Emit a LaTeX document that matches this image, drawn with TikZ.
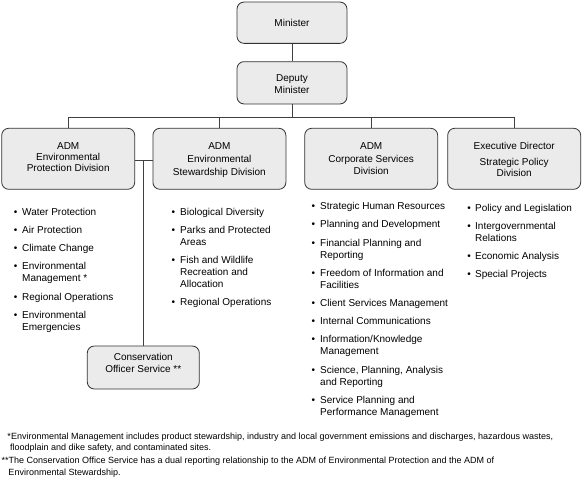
\documentclass[tikz,border=0pt]{standalone}
\usepackage{fontspec}
\setmainfont{Liberation Sans}
\begin{document}
\begin{tikzpicture}[x=1pt,y=-1pt,
  box/.style={draw=black!80, fill=black!8, rounded corners=7pt, line width=0.8pt, inner sep=0pt},
  btxt/.style={align=center, font=\fontsize{10}{12}\selectfont, inner sep=0pt},
  item/.style={anchor=base west, font=\fontsize{10}{12}\selectfont, inner sep=0pt},
  dot/.style={anchor=base, font=\fontsize{10}{12}\selectfont, inner sep=0pt},
  note/.style={anchor=base west, font=\fontsize{9}{11}\selectfont, inner sep=0pt},
  conn/.style={draw=black!75, line width=0.8pt}]
\useasboundingbox (0,0) rectangle (582,479);

% boxes
\node[box, minimum width=110pt, minimum height=41.3pt] (min) at (292,22.7) {};
\node[box, minimum width=110pt, minimum height=42.3pt] (dep) at (292,82.8) {};
\node[box, minimum width=133pt, minimum height=61pt] (d1) at (68.2,158.8) {};
\node[box, minimum width=133pt, minimum height=61pt] (d2) at (219.4,158.8) {};
\node[box, minimum width=133pt, minimum height=61pt] (d3) at (371.2,158.8) {};
\node[box, minimum width=133pt, minimum height=61pt] (d4) at (514.2,158.8) {};
\node[box, minimum width=112pt, minimum height=43pt] (cons) at (143.3,367.5) {};

% box texts
\node[btxt] (min-t) at (292,23.3) {Minister};
\node[btxt] (dep-t) at (292,84.2) {Deputy\\[-0.3pt]Minister};
\node[btxt] (d1-t) at (68.2,157) {ADM\\[-1pt]Environmental\\[-0.4pt]Protection Division};
\node[btxt] (d2-t) at (219.4,159.7) {ADM\\[1.6pt]Environmental\\[0.4pt]Stewardship Division};
\node[btxt] (d3-t) at (371.2,158.2) {ADM\\[1.3pt]Corporate Services\\[-0.3pt]Division};
\node[btxt] (d4-t) at (514.2,159.5) {Executive Director\\[4.6pt]Strategic Policy\\[-1pt]Division};
\node[btxt] (cons-t) at (143.3,363) {Conservation\\Officer Service **};

% connectors
\draw[conn] (min.south) -- (dep.north);
\coordinate (bus) at (292,117.3);
\draw[conn] (dep.south) -- (bus);
\draw[conn] (d1.north) |- (bus) -| (d4.north);
\draw[conn] (d2.north) -- (d2.north |- bus);
\draw[conn] (d3.north) -- (d3.north |- bus);
\coordinate (cj) at (143.3,160.7);
\draw[conn] (d1.east |- cj) -- (d2.west |- cj);
\draw[conn] (cj) -- (cons.north);

% bullet lists
\foreach \bx/\tx/\y/\b/\t [count=\i] in {
 15.7/22/211.7/1/Water Protection,
 15.7/22/229.9/1/Air Protection,
 15.7/22/248.1/1/Climate Change,
 15.7/22/266.3/1/Environmental,
 15.7/22/278.3/0/Management *,
 15.7/22/296.5/1/Regional Operations,
 15.7/22/314.7/1/Environmental,
 15.7/22/326.7/0/Emergencies,
 173.3/180/211.7/1/Biological Diversity,
 173.3/180/229.9/1/Parks and Protected,
 173.3/180/241.9/0/Areas,
 173.3/180/260.1/1/Fish and Wildlife,
 173.3/180/272.1/0/Recreation and,
 173.3/180/284.1/0/Allocation,
 173.3/180/302.3/1/Regional Operations,
 313.3/320/206/1/Strategic Human Resources,
 313.3/320/224.2/1/Planning and Development,
 313.3/320/242.4/1/Financial Planning and,
 313.3/320/254.4/0/Reporting,
 313.3/320/272.6/1/Freedom of Information and,
 313.3/320/284.6/0/Facilities,
 313.3/320/302.8/1/Client Services Management,
 313.3/320/321/1/Internal Communications,
 313.3/320/339.2/1/{Information/Knowledge},
 313.3/320/351.2/0/Management,
 313.3/320/369.4/1/{Science, Planning, Analysis},
 313.3/320/381.4/0/and Reporting,
 313.3/320/399.6/1/Service Planning and,
 313.3/320/411.6/0/Performance Management,
 469/475/207.7/1/Policy and Legislation,
 469/475/225.9/1/Intergovernmental,
 469/475/237.9/0/Relations,
 469/475/256.1/1/Economic Analysis,
 469/475/274.3/1/Special Projects}{
  \node[item] (li\i) at (\tx,\y+3.6) {\t};
  \ifnum\b=1 \node[dot] (bu\i) at (\bx,\y+3.6) {•};\fi
}

% footnotes
\node[note] (fn1a) at (7.3,439) {*Environmental Management includes product stewardship, industry and local government emissions and discharges, hazardous wastes,};
\node[note] (fn1b) at (10,450) {floodplain and dike safety, and contaminated sites.};
\node[note] (fn2a) at (1.5,463.2) {**The Conservation Office Service has a dual reporting relationship to the ADM of Environmental Protection and the ADM of};
\node[note] (fn2b) at (8.3,475) {Environmental Stewardship.};
\end{tikzpicture}
\end{document}
